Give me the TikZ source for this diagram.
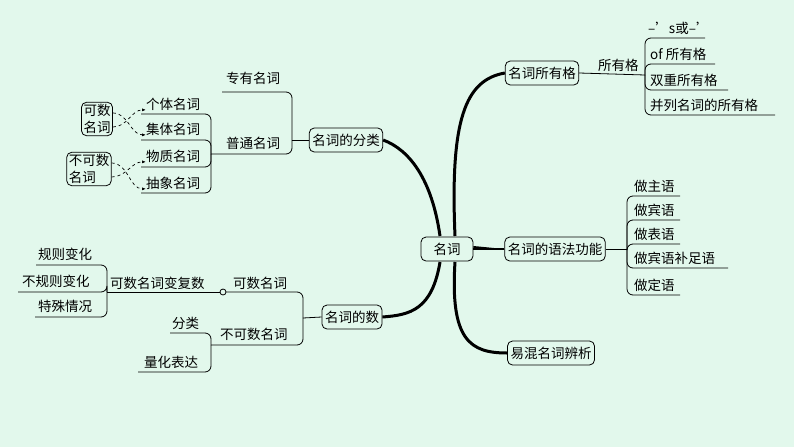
\documentclass[tikz,border=0pt]{standalone}
\usepackage{fontspec}
\setmainfont{Noto Sans CJK SC}
\usetikzlibrary{arrows.meta}
\definecolor{bg}{HTML}{E2F8EC}
\begin{document}
\begin{tikzpicture}[x=1pt,y=-1pt,font=\fontsize{13.5}{15}\selectfont,
  box/.style={draw,rounded corners=5pt,fill=bg,inner sep=3pt,line width=0.8pt,minimum height=24pt},
  it/.style={anchor=base west,inner sep=0pt},
  ln/.style={line width=0.8pt,rounded corners=6pt},
  trunk/.style={line width=3pt},
  dsh/.style={dashed,line width=0.7pt,-{Latex[length=4pt]}}]
\fill[bg] (0,0) rectangle (794,447);
\useasboundingbox (0,0) rectangle (794,447);
% central
\node[box,minimum width=52pt] (root) at (447,249) {名词};
\node[box] (own) at (542,73) {名词所有格};
\node[box] (func) at (555,249) {名词的语法功能};
\node[box] (conf) at (551,353) {易混名词辨析};
\node[box] (cls) at (346,140) {名词的分类};
\node[box] (num) at (352,317) {名词的数};
% trunks
\draw[trunk] (455,236) .. controls (450,120) and (465,80) .. (own.west);
\draw[trunk] (440,236) .. controls (432,180) and (410,150) .. (cls.east);
\draw[trunk] (440,262) .. controls (432,310) and (410,315) .. (num.east);
\draw[trunk] (455,262) .. controls (450,340) and (470,353) .. (conf.west);
\fill (root.east) ++(0,-3) -- (func.west) -- ++(0,0.5) -- (root.east) ++(0,3) -- cycle;
\draw[line width=2pt] (root.east) -- (func.west);
% 名词所有格
\node[it] (soy) at (598,70) {所有格};
\coordinate (jo) at (645,75);
\draw[ln] (own.east) -- (jo);
\node[it] (o1) at (648,33) {–’s或–’};
\node[it] (o2) at (650,59) {of 所有格};
\node[it] (o3) at (650,85) {双重所有格};
\node[it] (o4) at (650,110) {并列名词的所有格};
\coordinate (o1e) at (705,38);\coordinate (o2e) at (715,64);
\coordinate (o3e) at (728,90);\coordinate (o4e) at (775,115);
\foreach \e in {o1e,o2e,o3e,o4e}{\draw[ln] (jo) |- (\e);}
% 语法功能
\coordinate (jf) at (627,249);
\draw[ln] (func.east) -- (jf);
\node[it] (f1) at (634,191) {做主语};
\node[it] (f2) at (634,215) {做宾语};
\node[it] (f3) at (634,239) {做表语};
\node[it] (f4) at (634,263) {做宾语补足语};
\node[it] (f5) at (634,290) {做定语};
\coordinate (f1e) at (680,196);\coordinate (f2e) at (680,220);
\coordinate (f3e) at (680,244);\coordinate (f4e) at (728,268);
\coordinate (f5e) at (680,295);
\foreach \e in {f1e,f2e,f3e,f4e,f5e}{\draw[ln] (jf) |- (\e);}
% 名词的分类
\coordinate (jc) at (292,140);
\draw[ln] (cls.west) -- (jc);
\node[it] (c1) at (226,83) {专有名词};
\node[it] (c2) at (226,148) {普通名词};
\coordinate (c1e) at (222,92);\coordinate (c2e) at (211,154);
\draw[ln] (jc) |- (c1e);\draw[ln] (jc) |- (c2e);
\coordinate (jg) at (211,154);
\node[it] (g1) at (146,109) {个体名词};
\node[it] (g2) at (146,134) {集体名词};
\node[it] (g3) at (146,161) {物质名词};
\node[it] (g4) at (146,188) {抽象名词};
\coordinate (g1e) at (141,114);\coordinate (g2e) at (141,140);
\coordinate (g3e) at (141,167);\coordinate (g4e) at (141,193);
\foreach \e in {g1e,g2e,g3e,g4e}{\draw[ln] (jg) |- (\e);}
\node[box,align=left,inner sep=2pt,font=\fontsize{13.5}{17}\selectfont] (cn) at (97,119) {可数\\名词};
\node[box,align=left,inner sep=2pt,font=\fontsize{13.5}{17}\selectfont] (un) at (89,169) {不可数\\名词};
\draw[dsh] ([yshift=-8pt]cn.east) to[out=0,in=180] ([yshift=-6pt]g1.west);
\draw[dsh] ([yshift=6pt]cn.east) to[out=0,in=180] ([yshift=-6pt]g2.west);
\draw[dsh] ([yshift=-8pt]un.east) to[out=0,in=180] ([yshift=-6pt]g3.west);
\draw[dsh] ([yshift=6pt]un.east) to[out=0,in=180] ([yshift=-6pt]g4.west);
% 名词的数
\coordinate (jn) at (303,318);
\draw[ln] (num.west) -- (jn);
\node[it] (n1) at (233,288) {可数名词};
\node[it] (n2) at (220,339) {不可数名词};
\coordinate (circ) at (223,292);
\coordinate (n2e) at (211,345);
\draw[ln] (jn) |- (circ);\draw[ln] (jn) |- (n2e);
\node[it] (pl) at (110,288) {可数名词变复数};
\coordinate (jp) at (107,292);
\draw[line width=0.8pt] (circ) -- (jp);
\filldraw[fill=bg,line width=0.8pt] (circ) circle (3pt);
\node[it] (p1) at (38,259) {规则变化};
\node[it] (p2) at (22,286) {不规则变化};
\node[it] (p3) at (38,311) {特殊情况};
\coordinate (p1e) at (36,265);\coordinate (p2e) at (18,292);\coordinate (p3e) at (35,317);
\foreach \e in {p1e,p2e,p3e}{\draw[ln] (jp) |- (\e);}
\node[it] (u1) at (172,328) {分类};
\node[it] (u2) at (144,367) {量化表达};
\coordinate (u1e) at (170,333);\coordinate (u2e) at (138,372);
\draw[ln] (n2e) |- (u1e);\draw[ln] (n2e) |- (u2e);
\end{tikzpicture}
\end{document}
